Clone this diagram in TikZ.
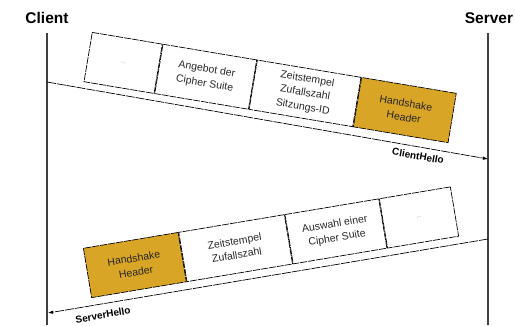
\documentclass[tikz,border=0pt]{standalone}
\usepackage{fontspec}
\setmainfont{Liberation Sans}
\usetikzlibrary{arrows.meta}
\definecolor{gold}{RGB}{217,165,38}
\begin{document}
\begin{tikzpicture}[x=1pt,y=-1pt,
  pkt/.style={draw=black, line width=0.7pt, dash pattern=on 7pt off 1pt, minimum height=50pt, inner sep=0pt, anchor=north west, align=center, font=\fontsize{10.5}{14}\selectfont, text=black!85},
  msg/.style={draw=black, line width=0.7pt, dash pattern=on 9pt off 1pt, -{Latex[length=5pt,width=3.5pt]}},
  life/.style={line width=1.6pt, draw=black!75},
  actor/.style={font=\fontsize{15.5}{18}\selectfont\bfseries, anchor=base},
  msglbl/.style={font=\fontsize{10}{12}\selectfont\bfseries}
]
\useasboundingbox (0,0) rectangle (515,325);

% actors and lifelines
\node[actor] (client) at (47,23.3) {Client};
\node[actor] (server) at (489,23.3) {Server};
\coordinate (ctop) at (47,33);
\coordinate (cbot) at (47,325);
\coordinate (stop) at (488,33);
\coordinate (sbot) at (488,325);
\draw[life] (ctop) -- (cbot);
\draw[life] (stop) -- (sbot);

% ClientHello packet
\begin{scope}[shift={(92,32)}, rotate=-9.5, transform shape]
  \node[pkt, minimum width=71pt] (t1) at (0,0) {\textcolor{black!45}{\fontsize{6}{7}\selectfont ...}};
  \node[pkt, minimum width=95pt] (t2) at (t1.north east) {Angebot der\\Cipher Suite};
  \node[pkt, minimum width=105pt] (t3) at (t2.north east) {Zeitstempel\\Zufallszahl\\Sitzungs-ID};
  \node[pkt, minimum width=96pt, fill=gold] (t4) at (t3.north east) {Handshake\\Header};
\end{scope}

% ServerHello packet
\begin{scope}[shift={(83,248)}, rotate=9.5, transform shape]
  \node[pkt, minimum width=96pt, fill=gold] (b1) at (0,0) {Handshake\\Header};
  \node[pkt, minimum width=107pt] (b2) at (b1.north east) {Zeitstempel\\Zufallszahl};
  \node[pkt, minimum width=95pt] (b3) at (b2.north east) {Auswahl einer\\Cipher Suite};
  \node[pkt, minimum width=72pt] (b4) at (b3.north east) {\textcolor{black!45}{\fontsize{6}{7}\selectfont ...}};
\end{scope}

% messages
\coordinate (c1) at (47,82);
\coordinate (s1) at (488,159);
\coordinate (s2) at (488,239);
\coordinate (c2) at (48,313);
\draw[msg] (c1) -- (s1);
\draw[msg] (s2) -- (c2);
\node[msglbl, rotate=-10] (chl) at (418,156) {ClientHello};
\node[msglbl, rotate=9.5] (shl) at (103,315) {ServerHello};
\end{tikzpicture}
\end{document}
